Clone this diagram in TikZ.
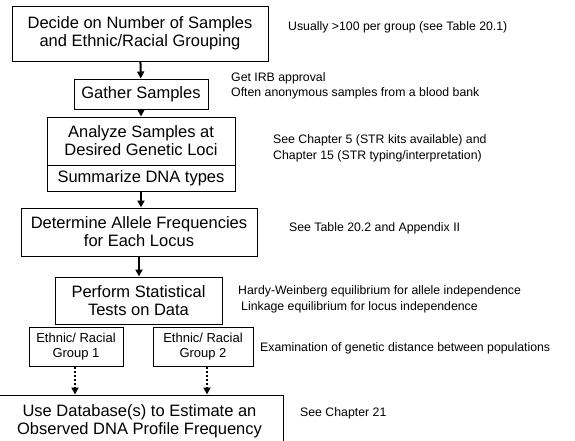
\documentclass[tikz,border=0pt]{standalone}
\usepackage{fontspec}
\setmainfont{Liberation Sans}
\usetikzlibrary{arrows.meta,positioning}

\begin{document}
\begin{tikzpicture}[
    x=1pt, y=-1pt,
    stepbox/.style={draw, line width=1pt, align=center, inner sep=0pt, font=\fontsize{16.5}{18}\selectfont},
    grp/.style={draw, line width=1pt, align=center, inner sep=0pt, font=\fontsize{13}{15}\selectfont},
    note/.style={anchor=west, align=left, inner sep=0pt, font=\fontsize{12.3}{15.5}\selectfont},
    arr/.style={-{Triangle[length=7pt,width=7pt]}, line width=2pt},
    darr/.style={-{Triangle[length=7pt,width=7pt]}, line width=2pt, dash pattern=on 2pt off 2pt}
]
\useasboundingbox (0,0) rectangle (575,440);

% main steps
\node[stepbox, minimum width=256, minimum height=55] (D) at (140,33.5) {Decide on Number of Samples\\and Ethnic/Racial Grouping};
\node[stepbox, minimum width=134, minimum height=30] (G) at (141,94) {Gather Samples};
\node[stepbox, minimum width=188, minimum height=48] (A) at (141,141) {Analyze Samples at\\Desired Genetic Loci};
\node[stepbox, minimum width=188, minimum height=26] (S) at (141,178) {Summarize DNA types};
\node[stepbox, minimum width=236, minimum height=48] (F) at (139,232) {Determine Allele Frequencies\\for Each Locus};
\node[stepbox, minimum width=167, minimum height=47] (P) at (138.5,300.5) {Perform Statistical\\Tests on Data};
\node[grp, minimum width=94, minimum height=39] (R1) at (76,346.5) {Ethnic/ Racial\\Group 1};
\node[grp, minimum width=100, minimum height=39] (R2) at (203,346.5) {Ethnic/ Racial\\Group 2};
\node[stepbox, minimum width=287, minimum height=52] (U) at (139.5,421) {Use Database(s) to Estimate an\\Observed DNA Profile Frequency};

% notes
\node[note] (nD) at (288,27) {Usually >100 per group (see Table 20.1)};
\node[note] (nG) at (231,86) {Get IRB approval\\Often anonymous samples from a blood bank};
\node[note] (nA) at (273,148.5) {See Chapter 5 (STR kits available) and\\Chapter 15 (STR typing/interpretation)};
\node[note] (nF) at (289,228) {See Table 20.2 and Appendix II};
\node[note] (nP) at (238,299.5) {Hardy-Weinberg equilibrium for allele independence\\\hspace*{3pt}Linkage equilibrium for locus independence};
\node[note] (nR) at (260,348) {Examination of genetic distance between populations};
\node[note] (nU) at (300,413) {See Chapter 21};

% connectors
\draw[arr] (D) -- (G);
\draw[arr] (G) -- (A);
\draw[arr] (S) -- (S |- F.north);
\draw[arr] (F) -- (F |- P.north);
\draw[darr] ([xshift=-1pt]R1.south) -- ([xshift=-1pt]R1.south |- U.north);
\draw[darr] ([xshift=4pt]R2.south) -- ([xshift=4pt]R2.south |- U.north);
\end{tikzpicture}
\end{document}
